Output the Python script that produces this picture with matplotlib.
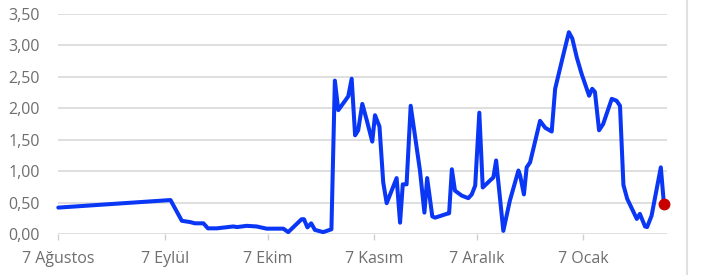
import matplotlib.pyplot as plt
from matplotlib.lines import Line2D

# days since 7 August
days = [0, 32.7, 36.0, 38.4, 39.8, 42.3, 43.6, 46.2, 51.0, 52.1, 54.9, 57.8,
        60.7, 65.6, 67.0, 70.9, 71.6, 72.6, 73.7, 74.8, 77.2, 79.6,
        80.6, 81.6, 84.5, 85.5, 86.5, 87.4, 88.6, 89.9, 91.5, 92.3, 93.6,
        94.7, 95.7, 98.6, 99.6, 100.4, 101.5, 102.7, 105.4, 106.7, 107.5,
        109.0, 109.8, 113.2, 113.9, 114.7, 115.6, 117.6, 119.5, 120.5, 121.5,
        122.7, 123.7, 125.8, 126.8, 127.6, 129.7, 131.6, 134.1, 134.6, 135.7,
        136.5, 137.5, 140.4, 141.9, 143.8, 144.8, 147.0, 148.8, 149.8, 151.1,
        152.5, 154.7, 155.6, 156.4, 157.6, 158.8, 161.3, 162.7, 163.7, 164.7,
        165.8, 168.6, 169.5, 171.0, 171.6, 172.9, 175.6, 176.5]
values = [0.42, 0.54, 0.21, 0.19, 0.17, 0.17, 0.09, 0.09, 0.12, 0.11, 0.13, 0.12,
          0.085, 0.085, 0.03, 0.235, 0.235, 0.105, 0.17, 0.065, 0.03, 0.075,
          2.44, 1.97, 2.19, 2.47, 1.57, 1.65, 2.07, 1.81, 1.47, 1.89, 1.71,
          0.82, 0.49, 0.89, 0.18, 0.79, 0.79, 2.04, 1.01, 0.34, 0.89,
          0.28, 0.26, 0.32, 0.33, 1.03, 0.69, 0.61, 0.57, 0.63, 0.77,
          1.93, 0.74, 0.85, 0.90, 1.17, 0.05, 0.53, 1.01, 0.93, 0.63,
          1.06, 1.14, 1.80, 1.69, 1.63, 2.31, 2.81, 3.21, 3.11, 2.81,
          2.55, 2.20, 2.31, 2.26, 1.65, 1.75, 2.15, 2.12, 2.04, 0.78,
          0.56, 0.24, 0.32, 0.12, 0.11, 0.29, 1.06, 0.48]

tick_days = [0, 31, 61, 92, 122, 153]
tick_labels = ["7 Ağustos", "7 Eylül", "7 Ekim", "7 Kasım", "7 Aralık", "7 Ocak"]
y_ticks = [0, 0.5, 1.0, 1.5, 2.0, 2.5, 3.0, 3.5]

plt.rcParams['font.family'] = ['Open Sans', 'DejaVu Sans']

fig = plt.figure(figsize=(7.02, 2.75), dpi=100)
ax = fig.add_axes([58.3 / 702, 41 / 275, (667 - 58.3) / 702, 220 / 275])

ax.plot(days, values, color="#0a36f5", linewidth=2.9, solid_joinstyle="round",
        solid_capstyle="round", clip_on=False, zorder=3)
ax.plot(days[-1], values[-1], "o", color="#c80000", markersize=7.5, clip_on=False, zorder=4)

ax.set_xlim(0, 177.4)
ax.set_ylim(0, 3.5)
ax.set_yticks(y_ticks)
ax.set_yticklabels([f"{v:.2f}".replace(".", ",") for v in y_ticks])
ax.set_xticks(tick_days)
ax.set_xticklabels(tick_labels)

ax.grid(axis="y", color="#dcdcdc", linewidth=1.3)
ax.set_axisbelow(True)
for s in ax.spines.values():
    s.set_visible(False)
ax.tick_params(axis="y", length=0, pad=13, labelsize=11.5, labelcolor="#6e6e6e")
ax.tick_params(axis="x", length=4, width=1, color="#d0d0d0", pad=8.5, labelsize=11.5, labelcolor="#6e6e6e")

# light border on the right side
fig.add_artist(Line2D([686.5 / 702, 686.5 / 702], [0, 1], color="#e0e0e0", linewidth=1.5))

plt.savefig("out.png", dpi=100)
